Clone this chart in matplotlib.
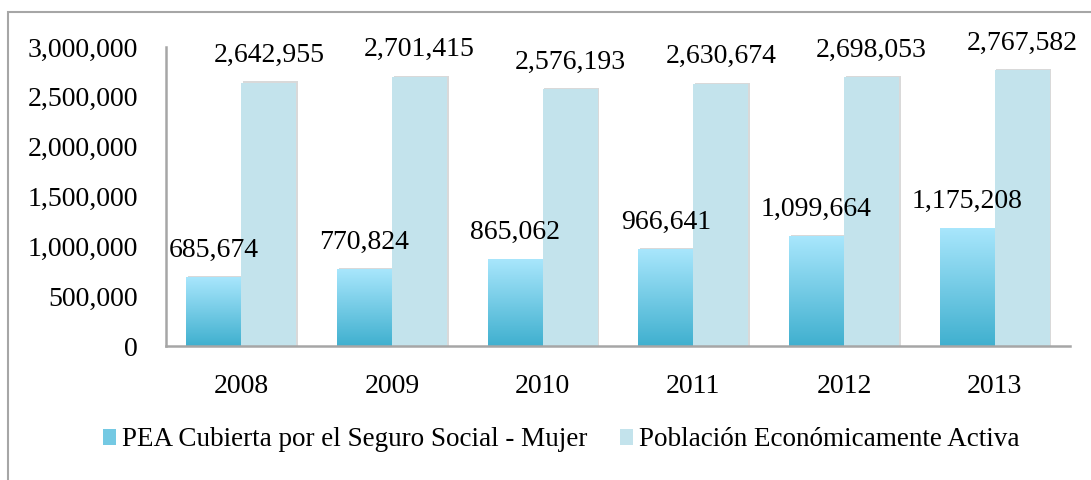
import numpy as np
import matplotlib.pyplot as plt
from matplotlib.patches import Rectangle
from matplotlib.colors import LinearSegmentedColormap

years = ["2008", "2009", "2010", "2011", "2012", "2013"]
pea_mujer = [685674, 770824, 865062, 966641, 1099664, 1175208]
pea_total = [2642955, 2701415, 2576193, 2630674, 2698053, 2767582]
yticks = [0, 500000, 1000000, 1500000, 2000000, 2500000, 3000000]

label_mujer = "PEA Cubierta por el Seguro Social - Mujer"
label_total = "Población Económicamente Activa"

plt.rcParams['font.family'] = ['Liberation Serif', 'DejaVu Serif']

fig = plt.figure(figsize=(10.91, 4.8), dpi=100)
W, H = 1091, 480

# outer chart frame (only left and top edges are visible)
fig.patches.append(Rectangle((8 / W, -0.1), 1.2, (480 - 12) / H + 0.1,
                             transform=fig.transFigure, fill=False,
                             edgecolor="#a6a6a6", linewidth=1.5))

ax = fig.add_axes([166 / W, 134 / H, (1070 - 166) / W, (346 - 47) / H])

grad_cmap = LinearSegmentedColormap.from_list("g", ["#40b0cf", "#a8e6fc"])
light = "#c3e3ec"
x = np.arange(len(years))
bw = 0.365
fs = 20

for i in x:
    # shadows
    for xs, h in [(i - bw, pea_mujer[i]), (i, pea_total[i])]:
        ax.add_patch(Rectangle((xs + 0.012, 0), bw, h + 12000,
                               facecolor="#d9d9d9", edgecolor="none", zorder=1))
    # gradient bar
    x0 = i - bw
    ax.imshow(np.linspace(0, 1, 100).reshape(-1, 1), cmap=grad_cmap,
              origin="lower", aspect="auto",
              extent=(x0, x0 + bw, 0, pea_mujer[i]), zorder=2)
    ax.bar(i + bw / 2, pea_total[i], bw, color=light, zorder=2)
    ax.annotate(f"{pea_mujer[i]:,}", (i - bw / 2, pea_mujer[i]),
                xytext=(0, 19.5), textcoords="offset points",
                ha="center", va="center", fontsize=fs)
    ax.annotate(f"{pea_total[i]:,}", (i + bw / 2, pea_total[i]),
                xytext=(0, 19.5), textcoords="offset points",
                ha="center", va="center", fontsize=fs)

ax.set_xlim(-0.5, len(years) - 0.5)
ax.set_ylim(0, 3000000)
ax.set_xticks(x)
ax.set_xticklabels(years)
ax.set_yticks(yticks)
ax.set_yticklabels([f"{v:,}" for v in yticks])
ax.tick_params(axis="both", length=0, labelsize=fs)
ax.tick_params(axis="y", pad=20)
ax.tick_params(axis="x", pad=20)

for s in ["top", "right"]:
    ax.spines[s].set_visible(False)
for s in ["left", "bottom"]:
    ax.spines[s].set_color("#a6a6a6")
    ax.spines[s].set_linewidth(1.8)

handles = [Rectangle((0, 0), 1, 1, facecolor="#74c9e3", edgecolor="none"),
           Rectangle((0, 0), 1, 1, facecolor=light, edgecolor="none")]
fig.legend(handles, [label_mujer, label_total], loc="center",
           bbox_to_anchor=(561 / W, 1 - 440 / H), ncol=2, frameon=False,
           fontsize=19.5, handlelength=0.5, handleheight=0.5,
           handletextpad=0.2, columnspacing=1.2)

fig.savefig("out.png", dpi=100)
